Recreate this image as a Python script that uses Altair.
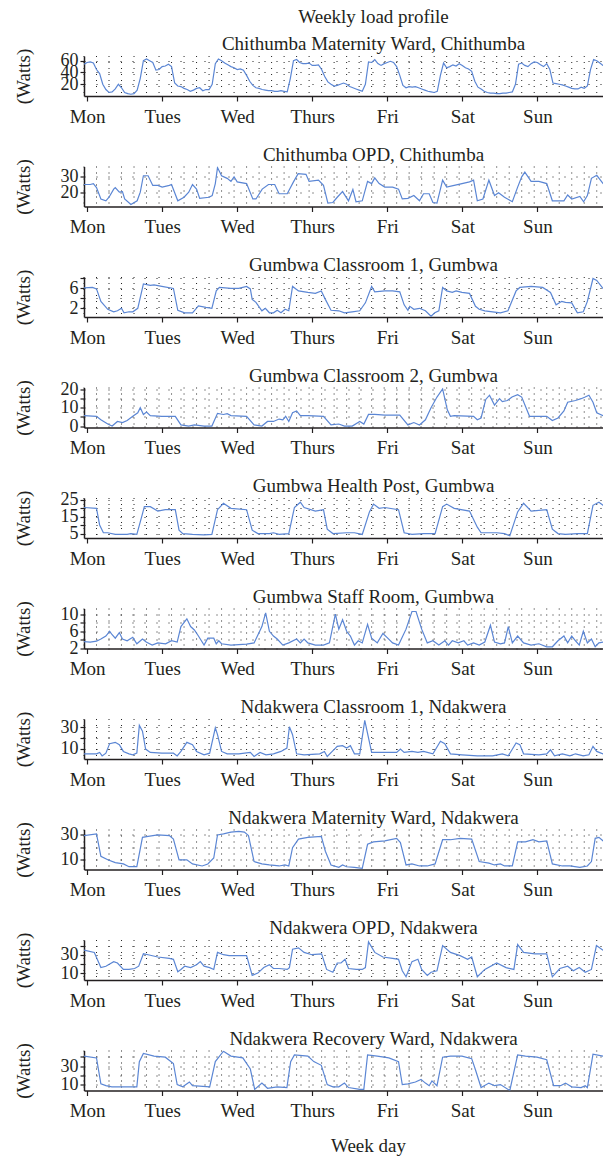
import altair as alt
import pandas as pd

# Day labels and the hour at which each day's tick sits (hour 0 = start of record)
DAYS = ["Mon", "Tues", "Wed", "Thurs", "Fri", "Sat", "Sun"]
DAY_TICK_HOURS = [1, 25, 49, 73, 97, 121, 145]
GRID_HOURS = list(range(0, 168, 4))
X_DOMAIN = [0, 166]

# ---- Load series (hour, watts) ----
CHITHUMBA_MAT = [54, 57, 58, 56, 45, 38, 20, 11, 6, 7,
                 12, 20, 14, 6, 4, 3, 4, 10, 30, 60,
                 63, 60, 57, 44, 45, 50, 51, 54, 50, 22,
                 17, 16, 13, 11, 8, 10, 13, 14, 9, 11,
                 11, 20, 55, 63, 60, 56, 53, 50, 48, 45,
                 46, 44, 35, 25, 18, 14, 13, 11, 10, 9,
                 9, 8, 8, 9, 8, 7, 30, 60, 62, 57,
                 55, 55, 56, 52, 52, 53, 45, 33, 24, 20,
                 17, 18, 20, 22, 20, 16, 14, 12, 10, 8,
                 20, 58, 57, 62, 55, 52, 55, 57, 59, 57,
                 50, 35, 18, 14, 16, 15, 16, 14, 12, 10,
                 8, 7, 6, 8, 35, 56, 48, 50, 53, 51,
                 55, 52, 48, 46, 42, 25, 15, 12, 8, 6,
                 5, 5, 4, 4, 5, 5, 6, 7, 20, 54,
                 56, 52, 50, 55, 58, 57, 53, 50, 55, 45,
                 22, 21, 20, 19, 17, 15, 13, 12, 12, 15,
                 13, 17, 45, 62, 60, 56, 52, 50]
CHITHUMBA_MAT_HOURS = list(range(len(CHITHUMBA_MAT)))

CHITHUMBA_OPD = [(0, 25), (2, 25), (3, 25.6), (4, 23), (5.4, 15.6), (7, 14.4), (8, 16.7), (9.5, 22), (10, 23),
                 (11.3, 20), (12.3, 20.4), (13, 15.6), (15, 12), (17, 14.4), (18, 20), (19, 30.7), (20.5, 30.7),
                 (22, 24.4), (23.6, 24.4), (25, 23.3), (27.3, 24.4), (28, 25), (30, 14.4), (32, 16.7), (33.5, 20),
                 (34.7, 25), (36, 22), (37, 16), (40, 16.7), (41, 17.8), (42, 25.6), (42.7, 36), (44, 30.7),
                 (45.8, 29), (47, 27), (48, 30), (49, 26.7), (52, 25.6), (54, 15.6), (55, 15.6), (57, 22), (59, 25),
                 (61, 25), (62.4, 19), (65, 19), (67, 26.7), (68.5, 32), (71, 31.6), (72, 27), (75, 27.8),
                 (76.6, 24.4), (78, 12.9), (79.6, 13.3), (81, 16.7), (82.7, 20.4), (84.6, 14.4), (86, 21.8),
                 (87, 13.8), (89, 14.4), (90.7, 27), (92, 25.6), (93, 29.3), (94.4, 25.6), (96.2, 23.3),
                 (98.7, 23.3), (100.6, 22), (101.8, 15.6), (103.6, 16), (105.5, 17.8), (107.3, 14.4), (108.6, 19),
                 (110.4, 19), (111.6, 13.3), (112.9, 12.9), (114.7, 27.8), (116, 23.3), (118.4, 24.4),
                 (120.9, 25.6), (123.3, 26.7), (124.6, 27.8), (125.8, 14.4), (127.6, 15.6), (129.5, 27.8),
                 (131.3, 17.8), (132.6, 19.6), (134.5, 16.7), (137, 13.8), (138.7, 23.3), (140, 30), (141, 33),
                 (143, 27), (145.5, 27), (148, 25.6), (149.8, 14.4), (153.5, 14.4), (154.7, 18.2), (156, 15.6),
                 (158.6, 17.3), (159.8, 13.8), (161, 17.8), (162.3, 29), (164, 31), (166, 25.6), (167, 25)]

GUMBWA_CLASS1 = [(0, 6.1), (2.7, 6.2), (4, 5.9), (5.4, 3.4), (7.6, 1.8), (9.5, 1.3), (10.7, 1.5), (12, 2),
                 (12.8, 1.1), (14.4, 1.3), (15.6, 1.3), (17.2, 2), (19, 6.9), (21.2, 6.6), (22.4, 6.7), (24.9, 6.4),
                 (28.6, 6), (30, 1.6), (32.2, 1.1), (34.7, 1.1), (36.6, 2.5), (39, 2.2), (40.9, 2), (42.3, 5.5),
                 (43.3, 6.2), (47, 6), (49.5, 6), (52, 6.4), (53.2, 5.9), (53.8, 3.8), (55, 3.2), (56.9, 1.5),
                 (58, 2), (59.3, 1.1), (60.6, 1.1), (61.8, 1.6), (63, 1.1), (64.3, 1.8), (65.5, 1.5), (66.7, 6.4),
                 (68.6, 5.5), (71.6, 5.2), (74, 5), (75.9, 5.5), (77.2, 3.8), (79, 1.6), (81.5, 1.5), (83.3, 1.1),
                 (85.8, 1.3), (88.2, 1.5), (90, 3.1), (92, 6.4), (93, 5.3), (96.2, 5.5), (98.7, 5.5), (101, 5.3),
                 (102.4, 2.7), (103.6, 1.6), (104.2, 2.4), (105.5, 1.8), (107.3, 2), (109.2, 1.5), (111, 0.4),
                 (112.2, 1.1), (113.5, 1.5), (114.7, 6.2), (116, 5.5), (117.8, 5.2), (119, 5.5), (120.9, 5.2),
                 (123.3, 5), (125.2, 2.4), (126.4, 1.8), (128.2, 1.5), (130.7, 1.3), (133.2, 1.1), (135.6, 1.5),
                 (138.2, 5.5), (139.4, 6.2), (143, 6.4), (146.7, 6.2), (149.2, 5.2), (151, 2.7), (152.8, 3.4),
                 (154, 3.2), (156, 3.1), (157.8, 1.1), (159.7, 1.3), (161, 3.4), (162.8, 8), (164, 7.6), (166, 6),
                 (167, 6)]

GUMBWA_CLASS2 = [(0, 5.7), (4, 5.3), (5.4, 3.4), (7.6, 1.1), (9, 0), (10.7, 2.5), (12.3, 1.9), (13.8, 3),
                 (15.6, 5.3), (17.2, 7.2), (18, 10), (19, 6.3), (20, 7.6), (21.2, 5.7), (24.9, 5.3), (29.2, 5.3),
                 (31, 0.6), (33.5, 0), (35.3, 0.6), (38.4, 0), (40.9, 0), (42.7, 6.9), (44.6, 6.3), (45.8, 6.7),
                 (47, 5.7), (52, 5.3), (54.4, 0.6), (56.9, 0), (58.7, 2.5), (60.6, 2.5), (62.4, 3.8), (63.6, 3.4),
                 (64.5, 5.3), (65.5, 2.5), (66.7, 7.2), (68, 8.2), (69.2, 5.7), (71.6, 5.7), (76.6, 5.3), (79, 0.6),
                 (81.5, 1.1), (83.3, 0), (85.8, 0), (88.2, 2.5), (89.5, 1.1), (91, 6.3), (93, 6.3), (96.2, 5.9),
                 (101, 5.9), (103.6, 0.6), (105.5, 1.9), (107.3, 0.6), (109.2, 3.4), (111, 10), (112.9, 15.8),
                 (114.7, 20.2), (116.2, 8.8), (117.2, 5.3), (118.4, 5.7), (124.6, 5.3), (125.8, 3.4), (127, 4.4),
                 (128.5, 14.5), (129.7, 16.8), (131.3, 11.4), (132.9, 14.9), (133.8, 13.3), (135.4, 13.9),
                 (136.9, 15.8), (138.7, 17.1), (140, 15.8), (142.5, 5.3), (148, 5.3), (149.8, 3), (151.6, 4.4),
                 (153.5, 8.2), (154.7, 13), (157.2, 13.9), (159, 14.9), (160.3, 15.8), (161.5, 16.8), (162.8, 13),
                 (164, 7.2), (166, 5.7), (167, 5.5)]

GUMBWA_HEALTH = [(0, 20.4), (4, 19.9), (5, 10.1), (6.2, 5.5), (7.6, 5.5), (10, 4.5), (13.8, 4.5), (15, 5),
                 (16.9, 4.5), (18.5, 15.3), (19.3, 20.9), (21.2, 20.9), (23.6, 18.3), (26, 19.1), (29.2, 19.1),
                 (30.4, 7), (31.6, 5), (34.7, 4.5), (38.4, 4.2), (40.9, 4.5), (42.7, 19.1), (44.6, 22.9),
                 (47, 19.9), (52, 19.1), (53.8, 7), (55.6, 5), (59.3, 5), (60.6, 5.5), (62.4, 4.5), (65.5, 5),
                 (67.3, 20.4), (69.2, 23.5), (70.4, 20.4), (74, 18.3), (76.6, 19.1), (77.8, 7.6), (79.6, 5),
                 (84, 5.5), (86.5, 5.5), (89, 4.5), (91.3, 17.8), (92.6, 22.4), (94.4, 19.9), (96.2, 20.4),
                 (100.6, 19.1), (102.4, 5.5), (104.9, 4.5), (108.6, 5), (112.3, 5), (114.7, 20.9), (116, 22.4),
                 (118.4, 19.9), (123.3, 18.3), (125.8, 8.8), (127, 5.5), (132, 5.5), (134.5, 5), (136.2, 3.7),
                 (138.7, 17.8), (140.6, 22.9), (143, 18.3), (148, 19.1), (149.8, 7.6), (151.6, 5), (154, 4.5),
                 (157.8, 5), (161, 5), (162.8, 21.7), (164.7, 23.5), (166, 21.7), (167, 21)]

GUMBWA_STAFF = [(0, 3.6), (2, 3.5), (4, 3.7), (5.4, 4.2), (7, 4.9), (8.2, 6), (9, 5.2), (10, 4.4), (11.3, 5.7),
                (12.3, 4.2), (13.8, 3.8), (15.6, 4.6), (16.9, 3.1), (18.7, 4.2), (19.9, 3.5), (21.8, 2.8),
                (23.6, 3.3), (26.1, 3.1), (28, 3.8), (29.8, 3.5), (31, 7.1), (32.9, 8.9), (34.1, 7.1), (35.3, 6.3),
                (36.6, 4.9), (38.4, 2.8), (39.6, 4.4), (41.5, 4.4), (42.3, 3.1), (43.1, 3.8), (44, 3.1), (47, 2.8),
                (52, 3), (54.4, 3.3), (56.9, 7.1), (58.1, 10.3), (59.3, 6), (60.6, 4.9), (61.8, 4.2), (63.6, 2.8),
                (65.5, 3.3), (68, 4.2), (69.2, 3.3), (70.4, 4.2), (71.6, 3.3), (74, 2.8), (76.6, 2.8), (78.5, 3.3),
                (80.4, 10), (81.5, 6.5), (82.7, 8.7), (84, 6), (85.2, 4.9), (86.5, 2.8), (87.7, 3.8), (89, 3.3),
                (90.7, 7.6), (92, 4.4), (93.8, 3.3), (95.6, 5.5), (96.9, 4.6), (98.7, 3.3), (100.6, 2.8), (103, 6.5),
                (104.9, 10.6), (106.2, 10.6), (108, 6.5), (109.8, 3.3), (111.6, 3.8), (113.5, 2.8), (115.4, 3.8),
                (116.6, 2.8), (117.8, 3.8), (119.7, 3.3), (121.5, 3.8), (122.7, 2.8), (124.6, 3.3), (126.4, 2.8),
                (128.2, 3.5), (130, 7.4), (131.3, 3.5), (133.2, 3.1), (134.5, 3.3), (135.7, 7.1), (137, 3.3),
                (138.7, 4.9), (140.6, 3.3), (143, 2.8), (145.5, 3.1), (148, 2.4), (149.8, 2.4), (151.6, 3.8),
                (153.5, 4.9), (154.7, 3.3), (156, 4.9), (157.2, 3.8), (158.4, 2.8), (159.7, 6), (161, 3.3),
                (162.3, 4.2), (163.5, 2.4), (164.7, 3.3), (166, 3.5), (167, 3.4)]

NDAKWERA_CLASS1 = [(0, 5.3), (4, 5.3), (5, 6.6), (5.8, 3.4), (7, 5.9), (8.2, 14.7), (10, 15.9), (11.3, 13.8),
                   (12.6, 7.5), (14.4, 5.3), (15.6, 4.4), (16.9, 5.9), (17.7, 31.6), (18.7, 26.3), (19.7, 9.7),
                   (21.2, 6.6), (24.9, 5.9), (28.6, 5.9), (29.8, 3.4), (31, 7.5), (32.9, 15.9), (34.7, 13.8),
                   (36, 7.5), (38.4, 4.4), (40.2, 5.9), (42, 29.4), (42.7, 23), (44, 7.5), (45.8, 5.3), (49.5, 5.3),
                   (53.2, 6.6), (54.4, 2.8), (56.3, 6.6), (58.2, 4.4), (60.6, 5.3), (63, 7.5), (64.9, 10.6),
                   (65.7, 30.3), (66.7, 23), (68, 5.3), (70.4, 4.4), (75.4, 5.3), (76.9, 7.5), (77.8, 2.8),
                   (79.4, 7.5), (81, 12.2), (82.7, 12.8), (84, 10.6), (85.2, 12.8), (86.5, 5.3), (88.2, 5.3),
                   (89.8, 36.3), (91, 20), (92, 6.6), (96.2, 6.6), (100, 6.6), (101.2, 9.7), (102.4, 6.6),
                   (104.9, 7.5), (106.8, 6.6), (108.6, 7.5), (111.6, 5.3), (114, 16.9), (115.4, 14.7), (117.2, 5.3),
                   (120.9, 4.4), (125.8, 3.4), (130.7, 3.4), (133.8, 5.3), (135.7, 3.4), (138.2, 15.3),
                   (139.4, 13.8), (140.6, 5.3), (145.5, 4.4), (148, 5.3), (149.2, 9), (150.5, 3.4), (153, 5.3),
                   (155.4, 3.4), (157.2, 5.3), (159.7, 3.4), (161.5, 4.4), (162.8, 12.2), (164, 7.5), (166, 5.3),
                   (167, 5.3)]

NDAKWERA_MAT = [(0, 29.2), (4, 30.5), (5.4, 12.7), (7.6, 10), (10, 7.8), (12.6, 6.7), (14.4, 4.5), (16.9, 4.5),
                (18.7, 27.8), (20.5, 28.6), (23.6, 29.7), (27.3, 29.2), (28.6, 26.4), (30.4, 10), (32.9, 10),
                (34.7, 6.7), (37.8, 5.1), (39.6, 6.7), (41.5, 11.4), (42.7, 29.7), (44.6, 30.5), (47, 31.9),
                (49.5, 32.5), (51.3, 31.9), (52.6, 29.2), (54.4, 8.6), (56.9, 6.7), (59.3, 5.9), (62.4, 5.1),
                (64.3, 5.9), (65.5, 5.1), (66.7, 19.6), (68.6, 26.4), (71.6, 27.8), (75.9, 28.6), (77.2, 16.8),
                (79, 5.9), (81.5, 4), (82.7, 5.9), (84, 4.5), (86.5, 4), (89, 3.2), (90.7, 22.3), (92.6, 24.2),
                (96.2, 25), (100, 27), (101.2, 23.7), (103, 5.9), (104.9, 6.7), (107.3, 5.1), (109.8, 5.1),
                (112.3, 6.7), (114.7, 25.9), (117.2, 25.9), (120.3, 27), (124, 26.4), (126.4, 8.6), (129.5, 7.3),
                (131.3, 5.9), (133.2, 6.7), (134.5, 5.1), (137, 5.1), (138.7, 24.2), (141.2, 24.2), (143.6, 25.9),
                (145.5, 24.2), (148, 25), (149.8, 6.7), (153, 5.1), (155.4, 5.1), (158.6, 4), (161, 5.1),
                (162.3, 8.6), (163.5, 27), (164.7, 27.8), (166, 25), (167, 25)]

NDAKWERA_OPD = [(0, 35), (3.3, 32.5), (5.4, 16), (7, 17.5), (9.5, 22.5), (10.7, 21), (12.6, 14), (14.4, 14),
                (16.2, 15), (17.5, 17.5), (19, 31), (20.5, 30), (23.6, 27.5), (27.3, 26), (28.6, 25), (30, 11.5),
                (31, 14), (32.2, 17.5), (34.1, 16), (36, 19), (37.2, 22.5), (38.4, 17.5), (40.2, 16), (41.5, 14),
                (42.7, 32.5), (44.6, 30), (46.4, 29), (52, 29), (53.8, 7.5), (55.6, 10), (57.5, 16), (59.3, 19),
                (60.6, 15), (62.4, 15), (65, 14), (65.7, 16), (66.7, 36), (68.6, 37.5), (70.4, 32.5), (72.9, 30),
                (76, 31), (77.6, 14), (79.6, 11), (81, 21), (82.2, 21), (83.5, 25), (84.6, 15), (87.1, 14),
                (89, 14), (90, 16), (91, 44), (93, 32.5), (95.6, 27.5), (98.7, 26), (100.6, 25), (101.8, 12.5),
                (103, 6), (104.9, 22.5), (106.8, 25), (108, 14), (109.8, 7.5), (111, 11), (112.9, 12.5),
                (114.7, 40), (117.2, 32.5), (120.3, 29), (122.7, 25), (124, 27.5), (125.8, 6), (128.2, 14),
                (132, 21), (135, 16), (137.5, 14), (138.7, 41), (140.6, 32.5), (144.2, 31), (148, 31), (149.8, 6),
                (152.2, 15), (154.7, 17.5), (156.5, 12.5), (158.4, 16), (160.3, 11), (162.3, 14), (163.9, 40),
                (166, 35), (167, 34)]

NDAKWERA_RECOV = [(0, 40.8), (4, 38.8), (5.4, 10.8), (7, 8.8), (8.9, 7.6), (12.6, 7.6), (16.9, 7.6), (17.7, 34.8),
                  (19, 43.6), (22.4, 40.8), (26, 39.6), (28.6, 32.8), (29.8, 10), (31.6, 7.6), (33.7, 12.8),
                  (34.7, 8.8), (40.2, 7.6), (42, 34.8), (44.6, 46), (47, 40.8), (50.8, 38.8), (53.2, 26.8),
                  (54.6, 4.8), (56.9, 11.6), (58.7, 6), (61.8, 7.6), (64.9, 6.8), (66.1, 34.8), (67.3, 42),
                  (71.6, 40.8), (73.5, 34.8), (75.9, 30.8), (77.8, 10), (79.6, 7.6), (81.5, 7.6), (83.3, 11.6),
                  (84.6, 6.8), (88.2, 4.8), (89.5, 4.8), (90.7, 42), (93.8, 40.8), (97.5, 38.8), (100.6, 34.8),
                  (101.8, 10), (103.6, 10.8), (106, 12.8), (107.8, 15.6), (109.2, 11.6), (110.4, 8.8), (111.3, 14),
                  (112.9, 8.8), (114.7, 39.6), (117.2, 40.8), (120.9, 40.8), (124, 38), (125.2, 26), (127, 6.8),
                  (129.5, 11.6), (131.3, 8.8), (133.2, 10), (136.2, 3.6), (138.7, 42), (141.2, 40.8), (144.9, 39.6),
                  (148, 36.8), (150.2, 8.8), (152.4, 8.8), (154, 11.6), (156, 7.6), (159, 6.8), (160.3, 8.8),
                  (161, 6.8), (162.8, 42.8), (166, 40.8), (167, 40)]

# Panel settings: title, series, y domain, y tick values, labelled tick values
PANELS = [
    ("Chithumba Maternity Ward, Chithumba", list(zip(CHITHUMBA_MAT_HOURS, CHITHUMBA_MAT)), [0, 68], [20, 40, 60], [20, 40, 60]),
    ("Chithumba OPD, Chithumba", CHITHUMBA_OPD, [10.7, 36.7], [20, 30], [20, 30]),
    ("Gumbwa Classroom 1, Gumbwa", GUMBWA_CLASS1, [0.25, 8.3], [2, 4, 6, 8], [2, 6]),
    ("Gumbwa Classroom 2, Gumbwa", GUMBWA_CLASS2, [-0.8, 21], [0, 5, 10, 15, 20], [0, 10, 20]),
    ("Gumbwa Health Post, Gumbwa", GUMBWA_HEALTH, [2.4, 26], [5, 10, 15, 20, 25], [5, 15, 25]),
    ("Gumbwa Staff Room, Gumbwa", GUMBWA_STAFF, [2, 11.3], [2, 4, 6, 8, 10], [2, 6, 10]),
    ("Ndakwera Classroom 1, Ndakwera", NDAKWERA_CLASS1, [0.5, 37.5], [10, 20, 30], [10, 30]),
    ("Ndakwera Maternity Ward, Ndakwera", NDAKWERA_MAT, [2.3, 34], [10, 20, 30], [10, 30]),
    ("Ndakwera OPD, Ndakwera", NDAKWERA_OPD, [2.5, 46], [10, 20, 30, 40], [10, 30]),
    ("Ndakwera Recovery Ward, Ndakwera", NDAKWERA_RECOV, [3.6, 46.8], [10, 20, 30, 40], [10, 30]),
]

FONT = "Liberation Serif"
TEXT = "#231f20"
LINE = "#5b86d4"
PLOT_W = 519
PLOT_H = 40
FS = 19

day_expr = "[" + ",".join("'%s'" % d for d in DAYS) + "][floor(datum.value / 24)]"
grid_df = pd.DataFrame({"hour": GRID_HOURS})


def panel(idx, title, series, ydom, yticks, ylabels):
    last = idx == len(PANELS) - 1
    df = pd.DataFrame(series, columns=["hour", "watts"])
    x_axis_kw = dict(values=DAY_TICK_HOURS, labelExpr=day_expr, grid=False,
                     tickSize=5, labelPadding=6, labelFontSize=FS)
    if last:
        x_axis_kw.update(title="Week day", titleFontSize=FS, titleFont=FONT,
                         titleFontWeight="normal", titleColor=TEXT,
                         titleX=284, titleY=55, titleBaseline="middle")
    else:
        x_axis_kw.update(title=None)
    x_enc = alt.X("hour:Q", scale=alt.Scale(domain=X_DOMAIN, nice=False, zero=False),
                  axis=alt.Axis(**x_axis_kw))
    lab_expr = "indexof([%s], datum.value) >= 0 ? datum.label : ''" % ",".join(str(v) for v in ylabels)
    y_enc = alt.Y("watts:Q", scale=alt.Scale(domain=ydom, nice=False, zero=False),
                  axis=alt.Axis(values=yticks, labelExpr=lab_expr, title="(Watts)",
                                titleX=-61, titleY=PLOT_H / 2, titleAlign="center",
                                titleBaseline="middle", titleFontSize=FS, titleFont=FONT,
                                titleFontWeight="normal", titleColor=TEXT,
                                grid=True, gridDash=[1, 11], gridColor="#222",
                                tickSize=4, labelFontSize=18, labelPadding=2,
                                labelOverlap=False, labelBound=False))
    grid = alt.Chart(grid_df).mark_rule(color="#222", strokeDash=[1, 5], strokeWidth=1).encode(x=x_enc)
    line = alt.Chart(df).mark_line(color=LINE, strokeWidth=1.2, clip=True).encode(x=x_enc, y=y_enc)
    text = ["Weekly load profile", title] if idx == 0 else title
    return alt.layer(grid, line).properties(
        width=PLOT_W, height=PLOT_H,
        title=alt.TitleParams(text=text, font=FONT, fontSize=FS, fontWeight="normal", color=TEXT,
                              anchor="middle", frame="group", dx=30, offset=-21,
                              baseline="alphabetic", lineHeight=27),
    )


charts = [panel(i, *p) for i, p in enumerate(PANELS)]

chart = alt.vconcat(*charts, spacing=70.5, bounds="flush").properties(
    padding={"left": 14, "top": 8, "right": 0, "bottom": 0}
).configure_view(strokeOpacity=0).configure_axis(
    labelFont=FONT, labelColor=TEXT, domainColor=TEXT, tickColor=TEXT,
    domainWidth=1.5, tickWidth=1.2,
).configure_axisY(labelAlign="right", labelBaseline="middle")

chart.save("out.html", embed_options={"renderer": "svg", "actions": False})
